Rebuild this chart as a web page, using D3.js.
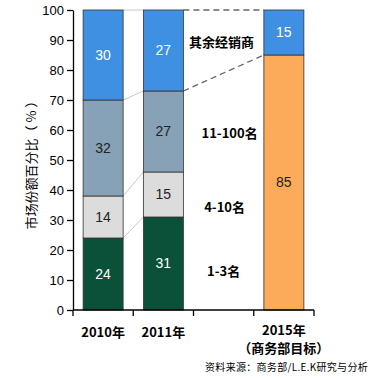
<!DOCTYPE html>
<meta charset="utf-8">
<style>
body { margin: 0; background: #fff; }
text { font-family: "Noto Sans CJK SC", "Liberation Sans", Arial, sans-serif; }
.axis text { font: 13px "Liberation Sans", Arial, sans-serif; fill: #000; }
.axis path, .axis line { stroke: #000; stroke-width: 1.3; }
</style>
<svg width="373" height="380"></svg>
<script src="https://cdn.jsdelivr.net/npm/d3@7"></script>
<script>

var years = ["2010年", "2011年", "", "2015年"];
var seriesNames = ["1-3名", "4-10名", "11-100名", "其余经销商", "商务部目标"];
var top3 = [24, 31, null, 0];
var top4to10 = [14, 15, null, 0];
var top11to100 = [32, 27, null, 0];
var others = [30, 27, null, 15];
var target = [0, 0, null, 85];
var yTicks = [0, 10, 20, 30, 40, 50, 60, 70, 80, 90, 100];

var colors = ["#0b5139", "#dcdcdc", "#87a1b6", "#3f8fe2", "#fbab5a"];
var textColors = ["#fff", "#222", "#222", "#fff", "#222"];

var svg = d3.select("svg"),
    margin = {top: 10, right: 59, bottom: 70, left: 73},
    width = +svg.attr("width") - margin.left - margin.right,
    height = +svg.attr("height") - margin.top - margin.bottom,
    g = svg.append("g").attr("transform", "translate(" + margin.left + "," + margin.top + ")");

var x = d3.scaleBand().domain(d3.range(years.length)).range([0, width])
    .paddingInner(0.336).paddingOuter(0.168);
var y = d3.scaleLinear().domain([0, 100]).range([height, 0]);

// build rows for stacking
var rows = years.map(function(d, i) {
  return {i: i, s0: top3[i] || 0, s1: top4to10[i] || 0, s2: top11to100[i] || 0, s3: others[i] || 0, s4: target[i] || 0};
}).filter(function(d) { return years[d.i] !== ""; });

// order: bottom green, grey, steel, blue; 2015 has orange at bottom then blue
var keys = ["s0", "s1", "s2", "s4", "s3"];
var keyColor = {s0: colors[0], s1: colors[1], s2: colors[2], s3: colors[3], s4: colors[4]};
var keyText = {s0: textColors[0], s1: textColors[1], s2: textColors[2], s3: textColors[3], s4: textColors[4]};
var stacked = d3.stack().keys(keys)(rows);

// connector lines between 2010 and 2011 (thin, solid grey)
var c1 = [0, 1, 2, 3].map(function(k) {
  return [d3.sum([top3, top4to10, top11to100, others].slice(0, k + 1), function(a) { return a[0]; }),
          d3.sum([top3, top4to10, top11to100, others].slice(0, k + 1), function(a) { return a[1]; })];
});
g.selectAll(".conn1").data(c1).enter().append("line")
  .attr("x1", x(0) + x.bandwidth()).attr("x2", x(1))
  .attr("y1", function(d) { return y(d[0]); })
  .attr("y2", function(d) { return y(d[1]); })
  .attr("stroke", "#c8c8c8").attr("stroke-width", 1);

// dashed connectors 2011 -> 2015
var c2 = [[top3[1] + top4to10[1] + top11to100[1], target[3]], [100, 100]];
g.selectAll(".conn2").data(c2).enter().append("line")
  .attr("x1", x(1) + x.bandwidth()).attr("x2", x(3))
  .attr("y1", function(d) { return y(d[0]); })
  .attr("y2", function(d) { return y(d[1]); })
  .attr("stroke", "#666").attr("stroke-width", 1.3)
  .attr("stroke-dasharray", "6,4");

var layer = g.selectAll(".serie").data(stacked).enter().append("g");

layer.selectAll("rect")
  .data(function(d) { return d.map(function(p) { p.key = d.key; return p; }); })
  .enter().filter(function(d) { return d[1] > d[0]; }).append("rect")
  .attr("x", function(d) { return x(d.data.i); })
  .attr("y", function(d) { return y(d[1]); })
  .attr("width", x.bandwidth())
  .attr("height", function(d) { return y(d[0]) - y(d[1]); })
  .attr("fill", function(d) { return keyColor[d.key]; })
  .attr("stroke", "#333").attr("stroke-width", 0.8);

layer.selectAll("text")
  .data(function(d) { return d; })
  .enter().filter(function(d) { return d[1] > d[0]; }).append("text")
  .attr("x", function(d) { return x(d.data.i) + x.bandwidth() / 2; })
  .attr("y", function(d) { return y((d[0] + d[1]) / 2); })
  .attr("dy", "0.35em")
  .attr("text-anchor", "middle")
  .style("font", "14px 'Liberation Sans', Arial, sans-serif")
  .attr("fill", function(d) { return keyText[d.key]; })
  .text(function(d) { return d[1] - d[0]; });

// axes
g.append("g").attr("class", "axis")
  .call(d3.axisLeft(y).tickValues(yTicks).tickSize(6).tickSizeOuter(0))
  .call(function(a) { a.selectAll("text").attr("x", -9); });

var xAxis = g.append("g").attr("class", "axis").attr("transform", "translate(0," + height + ")");
xAxis.append("line").attr("x1", 0).attr("x2", width).attr("stroke", "#000").attr("stroke-width", 1.3);
var step = x.step();
xAxis.selectAll(".tk").data(d3.range(years.length + 1)).enter().append("line")
  .attr("x1", function(d) { return d * step; }).attr("x2", function(d) { return d * step; })
  .attr("y1", 0).attr("y2", 6).attr("stroke", "#000").attr("stroke-width", 1.3);

xAxis.selectAll(".lbl").data(years).enter().append("text")
  .attr("x", function(d, i) { return x(i) + x.bandwidth() / 2; })
  .attr("y", function(d, i) { return i === 3 ? 25 : 27; })
  .attr("text-anchor", "middle")
  .style("font", "bold 13px 'Noto Sans CJK SC', sans-serif")
  .attr("fill", "#000")
  .text(function(d) { return d; });
xAxis.append("text")
  .attr("x", x(3) + x.bandwidth() / 2).attr("y", 43)
  .attr("text-anchor", "middle")
  .style("font", "bold 13px 'Noto Sans CJK SC', sans-serif")
  .text("（商务部目标）");

// y axis title
svg.append("text")
  .attr("transform", "translate(31,162) rotate(-90)")
  .attr("text-anchor", "middle")
  .attr("dy", "0.35em")
  .style("font", "13px 'Noto Sans CJK SC', sans-serif")
  .text("市场份额百分比（ % ）");

// segment labels
var segLabels = [
  {t: seriesNames[3], v: 89.3, dx: -2},
  {t: seriesNames[2], v: 59, dx: 6},
  {t: seriesNames[1], v: 34.3, dx: 1},
  {t: seriesNames[0], v: 13, dx: 0}
];
g.selectAll(".seg").data(segLabels).enter().append("text")
  .attr("x", function(d) { return (x(1) + x.bandwidth() + x(3)) / 2 + d.dx; })
  .attr("y", function(d) { return y(d.v); })
  .attr("dy", "0.35em")
  .attr("text-anchor", "middle")
  .style("font", "bold 13px 'Noto Sans CJK SC', sans-serif")
  .text(function(d) { return d.t; });

svg.append("text")
  .attr("x", 368).attr("y", 371)
  .attr("text-anchor", "end")
  .style("font", "10px 'Noto Sans CJK SC', sans-serif")
  .style("letter-spacing", "0.3px")
  .text("资料来源：商务部/L.E.K研究与分析");

</script>
